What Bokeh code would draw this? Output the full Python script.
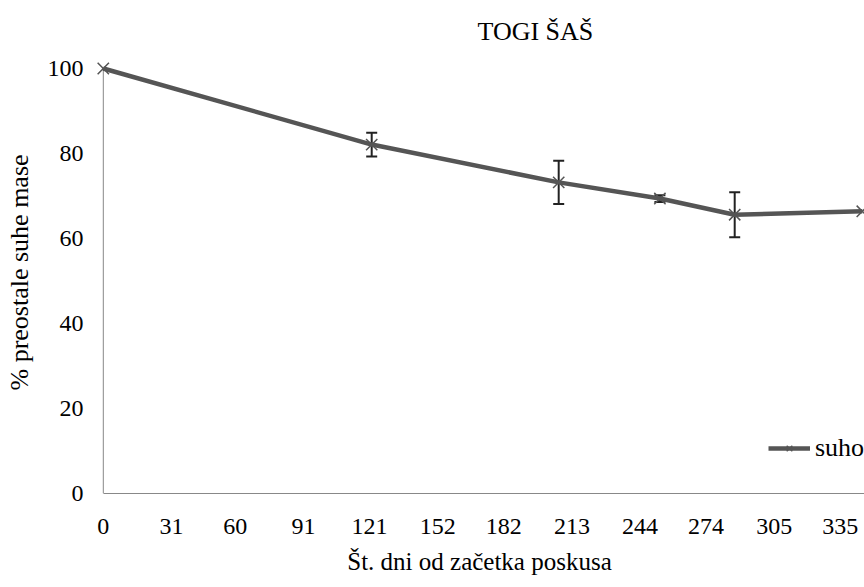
from bokeh.plotting import figure
from bokeh.models import (ColumnDataSource, Range1d, FixedTicker, Whisker,
                          TeeHead, Legend, LegendItem)
from bokeh.embed import file_html
from bokeh.resources import INLINE

# Remaining dry mass (%) over the days of the experiment
days = [0, 122, 207, 253, 287, 345]
remaining = [100, 82.1, 73.2, 69.4, 65.6, 66.4]
std_err = [0, 2.8, 5.1, 0.8, 5.3, 0]

x_ticks = [0, 31, 60, 91, 121, 152, 182, 213, 244, 274, 305, 335]
y_ticks = [0, 20, 40, 60, 80, 100]

FONT = "Liberation Serif"
LINE_COLOR = "#555555"
AXIS_COLOR = "#888888"

src = ColumnDataSource(dict(day=days, val=remaining))
err_rows = [i for i, e in enumerate(std_err) if e > 0]
err_src = ColumnDataSource(dict(
    day=[days[i] for i in err_rows],
    upper=[remaining[i] + std_err[i] for i in err_rows],
    lower=[remaining[i] - std_err[i] for i in err_rows],
))

# a little slack on the left/top keeps the end markers whole
p = figure(width=864, height=587, output_backend="svg", toolbar_location=None,
           x_range=Range1d(-4, 346), y_range=Range1d(0, 104),
           min_border_left=94, min_border_bottom=94, min_border_top=51,
           min_border_right=0, outline_line_color=None,
           title="TOGI ŠAŠ")

p.title.text_font = FONT
p.title.text_font_size = "26px"
p.title.text_font_style = "normal"
p.title.align = "left"
p.title.offset = 383
p.title.standoff = 12
p.title.text_color = "#000000"

p.grid.visible = False

for ax in (p.xaxis, p.yaxis):
    ax.axis_line_color = AXIS_COLOR
    ax.axis_line_width = 1
    ax.major_tick_line_color = None
    ax.minor_tick_line_color = None
    ax.major_tick_out = 0
    ax.major_tick_in = 0
    ax.major_label_text_font = FONT
    ax.major_label_text_font_size = "24px"
    ax.major_label_text_color = "#000000"
    ax.axis_label_text_font = FONT
    ax.axis_label_text_font_style = "normal"
    ax.axis_label_text_color = "#000000"

p.xaxis.ticker = FixedTicker(ticks=x_ticks)
p.yaxis.ticker = FixedTicker(ticks=y_ticks)
p.xaxis.bounds = (0, 346)
p.xaxis.major_label_standoff = 25
p.xaxis.axis_label = "Št. dni od začetka poskusa"
p.xaxis.axis_label_text_font_size = "25px"
p.xaxis.axis_label_standoff = 11

p.yaxis.bounds = (0, 100)
p.yaxis.axis_line_color = None
p.yaxis.major_label_standoff = 11
p.yaxis.axis_label = "% preostale suhe mase"
p.yaxis.axis_label_text_font_size = "26px"
p.yaxis.axis_label_standoff = 11

# value-axis rule drawn at day 0, spanning the tick range
p.segment(x0=[x_ticks[0]], y0=[y_ticks[0]], x1=[x_ticks[0]], y1=[y_ticks[-1]],
          line_color=AXIS_COLOR, line_width=1)

line_r = p.line("day", "val", source=src, line_width=4.5, line_color=LINE_COLOR)

whisk = Whisker(base="day", upper="upper", lower="lower", source=err_src,
                line_color="#222222", line_width=2,
                upper_head=TeeHead(size=11, line_color="#222222", line_width=2),
                lower_head=TeeHead(size=11, line_color="#222222", line_width=2))
p.add_layout(whisk)

pts_r = p.scatter("day", "val", source=src, marker="x", size=16,
                  line_color=LINE_COLOR, line_width=1.5)

legend = Legend(items=[LegendItem(label="suho", renderers=[line_r, pts_r])],
                location=(674, 30), padding=0, margin=0, spacing=0,
                glyph_width=42, glyph_height=20, label_standoff=5,
                border_line_color=None, background_fill_alpha=0,
                label_text_font=FONT, label_text_font_size="26px",
                label_text_color="#000000")
p.add_layout(legend)

open("out.html", "w").write(file_html(p, INLINE))
